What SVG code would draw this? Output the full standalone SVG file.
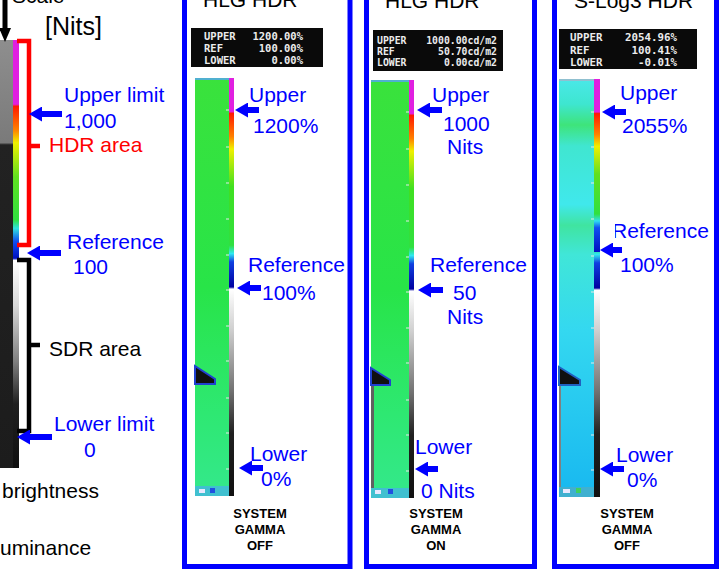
<svg xmlns="http://www.w3.org/2000/svg" width="724" height="569" viewBox="0 0 724 569">
<style>
.t{font-family:"Liberation Sans",Arial,sans-serif;font-size:21px}
.b{fill:#0000ff}
.r{fill:#ff0000}
.k{fill:#000}
.sg{font-family:"Liberation Sans",Arial,sans-serif;font-size:13px;font-weight:bold;fill:#000;text-anchor:middle}
.m{font-family:"DejaVu Sans Mono","Liberation Mono",monospace;font-weight:bold;fill:#ececec}
.panel{fill:#fff;stroke:#0000ff;stroke-width:5}
.arr{stroke:#0000ff;stroke-width:6;fill:none}
.tick{stroke:#e8e8e8;stroke-width:1}
</style>
<defs>
<marker id="ah" markerUnits="userSpaceOnUse" markerWidth="13" markerHeight="15" viewBox="0 0 13 15" refX="3" refY="7.5" orient="auto">
<path d="M0,0 L13,7.5 L0,15 Z" fill="#0000ff"/>
</marker>
<linearGradient id="cs1" x1="0" y1="0" x2="0" y2="1">
<stop offset="0" stop-color="#e020e0"/>
<stop offset="0.08" stop-color="#e020e0"/>
<stop offset="0.085" stop-color="#ff1a00"/>
<stop offset="0.14" stop-color="#ff8000"/>
<stop offset="0.17" stop-color="#f0f000"/>
<stop offset="0.26" stop-color="#40e020"/>
<stop offset="0.4" stop-color="#30e040"/>
<stop offset="0.42" stop-color="#30e8f0"/>
<stop offset="0.44" stop-color="#1040e0"/>
<stop offset="0.50" stop-color="#0000a0"/>
<stop offset="0.505" stop-color="#ffffff"/>
<stop offset="0.6" stop-color="#d0d0d0"/>
<stop offset="0.75" stop-color="#707070"/>
<stop offset="0.85" stop-color="#202020"/>
<stop offset="1" stop-color="#101010"/>
</linearGradient>
<linearGradient id="csL" x1="0" y1="0" x2="0" y2="1">
<stop offset="0" stop-color="#e020e0"/>
<stop offset="0.15" stop-color="#e020e0"/>
<stop offset="0.155" stop-color="#ff1a00"/>
<stop offset="0.21" stop-color="#ff8000"/>
<stop offset="0.24" stop-color="#f0f000"/>
<stop offset="0.32" stop-color="#60e020"/>
<stop offset="0.42" stop-color="#30e040"/>
<stop offset="0.44" stop-color="#30e0e0"/>
<stop offset="0.47" stop-color="#1050f0"/>
<stop offset="0.51" stop-color="#0010c0"/>
<stop offset="0.515" stop-color="#ffffff"/>
<stop offset="0.62" stop-color="#d8d8d8"/>
<stop offset="0.75" stop-color="#808080"/>
<stop offset="0.85" stop-color="#202020"/>
<stop offset="1" stop-color="#101010"/>
</linearGradient>
<linearGradient id="csS" x1="0" y1="0" x2="0" y2="1">
<stop offset="0" stop-color="#e020e0"/>
<stop offset="0.19" stop-color="#e020e0"/>
<stop offset="0.2" stop-color="#ff1a00"/>
<stop offset="0.32" stop-color="#ff8000"/>
<stop offset="0.39" stop-color="#f0f000"/>
<stop offset="0.55" stop-color="#60e020"/>
<stop offset="0.78" stop-color="#30e040"/>
<stop offset="0.82" stop-color="#30e0f0"/>
<stop offset="0.86" stop-color="#1050f0"/>
<stop offset="1" stop-color="#0010c0"/>
</linearGradient>
<linearGradient id="gL" x1="0" y1="0" x2="0" y2="1">
<stop offset="0" stop-color="#8e8e8e"/>
<stop offset="0.24" stop-color="#7a7a7a"/>
<stop offset="0.245" stop-color="#222"/>
<stop offset="1" stop-color="#1c1c1c"/>
</linearGradient>
<linearGradient id="gG" x1="0" y1="0" x2="0" y2="1">
<stop offset="0" stop-color="#3ae23c"/>
<stop offset="0.5" stop-color="#28e448"/>
<stop offset="0.8" stop-color="#2ee872"/>
<stop offset="1" stop-color="#34e88c"/>
</linearGradient>
<linearGradient id="gC" x1="0" y1="0" x2="0" y2="1">
<stop offset="0" stop-color="#4ae8e8"/>
<stop offset="0.06" stop-color="#3ee6d0"/>
<stop offset="0.11" stop-color="#3ee47a"/>
<stop offset="0.16" stop-color="#40e6d0"/>
<stop offset="0.3" stop-color="#40e8ec"/>
<stop offset="0.35" stop-color="#40e4a0"/>
<stop offset="0.42" stop-color="#40e6d8"/>
<stop offset="0.6" stop-color="#34d8f0"/>
<stop offset="1" stop-color="#18b8f0"/>
</linearGradient>
</defs>

<g id="left-scale">
<rect x="0" y="40" width="13" height="428" fill="url(#gL)"/>
<rect x="13" y="40" width="6" height="428" fill="url(#csL)"/>
<text class="t k" x="12" y="3">Scale</text>
<line x1="5" y1="0" x2="5" y2="30" stroke="#000" stroke-width="5"/>
<path d="M-1,28 L11,28 L5,42 Z" fill="#000"/>
<text class="t k" x="45" y="35" style="font-size:25px">[Nits]</text>
<path d="M17,41 H29 V245 H17 M29,146 H40" fill="none" stroke="#ff0000" stroke-width="4.5"/>
<path d="M17,260 H29 V431 H17 M29,345 H40" fill="none" stroke="#000" stroke-width="4.5"/>
<text class="t b" x="64" y="102">Upper limit</text>
<text class="t b" x="64" y="128">1,000</text>
<text class="t r" x="49" y="152">HDR area</text>
<text class="t b" x="67" y="249">Reference</text>
<text class="t b" x="73" y="274">100</text>
<text class="t k" x="49" y="356">SDR area</text>
<text class="t b" x="54" y="431">Lower limit</text>
<text class="t b" x="84" y="457">0</text>
<text class="t k" x="2" y="498">brightness</text>
<text class="t k" x="0" y="555">uminance</text>
</g>

<g id="panel-hlg-off">
<rect class="panel" x="184.5" y="-10" width="165.5" height="576.5"/>
<text class="t k" x="203" y="7">HLG HDR</text>
<rect x="191" y="28" width="132" height="39" fill="#0a0a0a"/>
<g class="m" font-size="10.5">
<text x="204" y="40">UPPER</text><text x="303" y="40" text-anchor="end">1200.00%</text>
<text x="204" y="52">REF</text><text x="303" y="52" text-anchor="end">100.00%</text>
<text x="204" y="64">LOWER</text><text x="303" y="64" text-anchor="end">0.00%</text>
</g>
<rect x="195" y="78" width="34" height="418" fill="url(#gG)"/>
<rect x="195" y="78" width="34" height="2" fill="#50b0d0"/>
<path d="M195,366 L215,379 L215,384 L195,384 Z" fill="#101010" stroke="#2040d0" stroke-width="2"/>
<rect x="195" y="486" width="34" height="10" fill="#40c0d0"/>
<rect x="199" y="489" width="6" height="4" fill="#e8e8ff"/>
<rect x="210" y="488" width="5" height="5" fill="#2050e0"/>
<rect x="229" y="78" width="5" height="418" fill="url(#cs1)"/>
<g class="tick"><line x1="226" y1="110" x2="229" y2="110"/><line x1="226" y1="147" x2="229" y2="147"/><line x1="226" y1="183" x2="229" y2="183"/><line x1="226" y1="219" x2="229" y2="219"/><line x1="226" y1="255" x2="229" y2="255"/><line x1="226" y1="290" x2="229" y2="290"/><line x1="226" y1="326" x2="229" y2="326"/><line x1="226" y1="361" x2="229" y2="361"/><line x1="226" y1="398" x2="229" y2="398"/><line x1="226" y1="433" x2="229" y2="433"/><line x1="226" y1="469" x2="229" y2="469"/></g>
<text class="t b" x="249" y="102">Upper</text>
<text class="t b" x="253" y="133">1200%</text>
<text class="t b" x="248" y="272">Reference</text>
<text class="t b" x="262" y="300">100%</text>
<text class="t b" x="250" y="461">Lower</text>
<text class="t b" x="261" y="486">0%</text>
<text class="sg" x="260" y="518">SYSTEM</text>
<text class="sg" x="260" y="534">GAMMA</text>
<text class="sg" x="260" y="550">OFF</text>
</g>

<g id="panel-hlg-on">
<rect class="panel" x="366.5" y="-10" width="168" height="576.5"/>
<text class="t k" x="385" y="8">HLG HDR</text>
<rect x="373" y="30" width="130" height="41" fill="#0a0a0a"/>
<g class="m" font-size="9.8">
<text x="377" y="44">UPPER</text><text x="497" y="44" text-anchor="end">1000.00cd/m2</text>
<text x="377" y="55">REF</text><text x="497" y="55" text-anchor="end">50.70cd/m2</text>
<text x="377" y="66">LOWER</text><text x="497" y="66" text-anchor="end">0.00cd/m2</text>
</g>
<rect x="371" y="80" width="38" height="418" fill="url(#gG)"/>
<rect x="371" y="80" width="38" height="2" fill="#50b0d0"/>
<rect x="371" y="384" width="3" height="104" fill="#606060"/>
<path d="M371,368 L390,380 L390,385 L371,385 Z" fill="#101010" stroke="#2040d0" stroke-width="2"/>
<rect x="371" y="488" width="38" height="10" fill="#40c0d0"/>
<rect x="375" y="490" width="6" height="4" fill="#e8e8ff"/>
<rect x="388" y="489" width="5" height="5" fill="#2050e0"/>
<rect x="409" y="80" width="5" height="418" fill="url(#cs1)"/>
<g class="tick"><line x1="406" y1="112" x2="409" y2="112"/><line x1="406" y1="149" x2="409" y2="149"/><line x1="406" y1="185" x2="409" y2="185"/><line x1="406" y1="221" x2="409" y2="221"/><line x1="406" y1="257" x2="409" y2="257"/><line x1="406" y1="292" x2="409" y2="292"/><line x1="406" y1="328" x2="409" y2="328"/><line x1="406" y1="363" x2="409" y2="363"/><line x1="406" y1="400" x2="409" y2="400"/><line x1="406" y1="435" x2="409" y2="435"/><line x1="406" y1="471" x2="409" y2="471"/></g>
<text class="t b" x="432" y="102">Upper</text>
<text class="t b" x="443" y="131">1000</text>
<text class="t b" x="447" y="154">Nits</text>
<text class="t b" x="430" y="272">Reference</text>
<text class="t b" x="453" y="300">50</text>
<text class="t b" x="447" y="324">Nits</text>
<text class="t b" x="415" y="454">Lower</text>
<text class="t b" x="421" y="498">0 Nits</text>
<text class="sg" x="436" y="518">SYSTEM</text>
<text class="sg" x="436" y="534">GAMMA</text>
<text class="sg" x="436" y="550">ON</text>
</g>

<g id="panel-slog3">
<rect class="panel" x="554.5" y="-10" width="162" height="576.5"/>
<text class="t k" x="574" y="8">S-Log3 HDR</text>
<rect x="559" y="29" width="138" height="40" fill="#0a0a0a"/>
<g class="m" font-size="10.8">
<text x="570" y="41">UPPER</text><text x="677" y="41" text-anchor="end">2054.96%</text>
<text x="570" y="53.5">REF</text><text x="677" y="53.5" text-anchor="end">100.41%</text>
<text x="570" y="66">LOWER</text><text x="677" y="66" text-anchor="end">-0.01%</text>
</g>
<rect x="559" y="79" width="35" height="418" fill="url(#gC)"/>
<rect x="559" y="79" width="35" height="2" fill="#90c0d0"/>
<rect x="559" y="384" width="2" height="104" fill="#808080"/>
<path d="M559,367 L580,380 L580,385 L559,385 Z" fill="#101010" stroke="#2060c0" stroke-width="2"/>
<rect x="559" y="487" width="35" height="10" fill="#40b0d0"/>
<rect x="563" y="489" width="7" height="4" fill="#e8e8ff"/>
<rect x="576" y="488" width="5" height="5" fill="#40d060"/>
<rect x="594" y="79" width="6" height="418" fill="url(#cs1)"/>
<rect x="594" y="79" width="6" height="173" fill="url(#csS)"/>
<g class="tick"><line x1="591" y1="112" x2="594" y2="112"/><line x1="591" y1="147" x2="594" y2="147"/><line x1="591" y1="183" x2="594" y2="183"/><line x1="591" y1="219" x2="594" y2="219"/><line x1="591" y1="256" x2="594" y2="256"/><line x1="591" y1="292" x2="594" y2="292"/><line x1="591" y1="328" x2="594" y2="328"/><line x1="591" y1="363" x2="594" y2="363"/><line x1="591" y1="435" x2="594" y2="435"/><line x1="591" y1="470" x2="594" y2="470"/></g>
<text class="t b" x="620" y="100">Upper</text>
<text class="t b" x="622" y="133">2055%</text>
<text class="t b" x="612" y="238">Reference</text>
<rect x="606" y="218" width="9" height="24" fill="#fff"/>
<text class="t b" x="620" y="272">100%</text>
<text class="t b" x="616" y="462">Lower</text>
<text class="t b" x="627" y="487">0%</text>
<text class="sg" x="627" y="518">SYSTEM</text>
<text class="sg" x="627" y="534">GAMMA</text>
<text class="sg" x="627" y="550">OFF</text>
</g>

<g id="connectors">
<line class="arr" x1="62" y1="114" x2="39" y2="114" marker-end="url(#ah)"/>
<line class="arr" x1="61" y1="253" x2="37" y2="253" marker-end="url(#ah)"/>
<line class="arr" x1="52" y1="437" x2="27" y2="437" marker-end="url(#ah)"/>
<line class="arr" x1="259" y1="110" x2="245" y2="110" marker-end="url(#ah)"/>
<line class="arr" x1="261" y1="288" x2="247" y2="288" marker-end="url(#ah)"/>
<line class="arr" x1="263" y1="468" x2="249" y2="468" marker-end="url(#ah)"/>
<line class="arr" x1="442" y1="110" x2="427" y2="110" marker-end="url(#ah)"/>
<line class="arr" x1="443" y1="290" x2="428" y2="290" marker-end="url(#ah)"/>
<line class="arr" x1="438" y1="469" x2="425" y2="469" marker-end="url(#ah)"/>
<line class="arr" x1="626" y1="112" x2="612" y2="112" marker-end="url(#ah)"/>
<line class="arr" x1="622" y1="250" x2="610" y2="250" marker-end="url(#ah)"/>
<line class="arr" x1="624" y1="469" x2="610" y2="469" marker-end="url(#ah)"/>
</g>
</svg>
